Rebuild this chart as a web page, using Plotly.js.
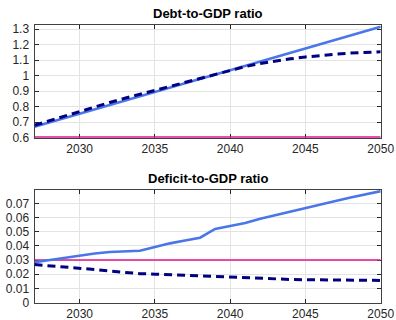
<!DOCTYPE html>
<html>
<head>
<meta charset="utf-8">
<script src="https://cdn.plot.ly/plotly-3.0.1.min.js"></script>
<style>
  html, body { margin: 0; padding: 0; background: #ffffff; }
  #chart { width: 396px; height: 320px; }
</style>
</head>
<body>
<div id="chart"></div>
<script>
// Projection years
const years = [2027, 2028, 2029, 2030, 2031, 2032, 2033, 2034, 2035, 2036, 2037, 2038,
               2039, 2040, 2041, 2042, 2043, 2044, 2045, 2046, 2047, 2048, 2049, 2050];

// Debt-to-GDP ratio: baseline (solid) and alternative path (dashed)
const debtBaseline = [0.670, 0.698, 0.726, 0.754, 0.782, 0.810, 0.838, 0.866, 0.894, 0.922,
                      0.950, 0.978, 1.006, 1.034, 1.062, 1.090, 1.118, 1.146, 1.174, 1.202,
                      1.230, 1.258, 1.287, 1.315];
const debtAlt      = [0.680, 0.710, 0.740, 0.770, 0.799, 0.827, 0.854, 0.880, 0.906, 0.932,
                      0.958, 0.984, 1.010, 1.035, 1.058, 1.078, 1.094, 1.108, 1.120, 1.130,
                      1.138, 1.145, 1.150, 1.153];
const debtLimit = 0.6;

// Deficit-to-GDP ratio: baseline (solid) and alternative path (dashed)
const deficitBaseline = [0.0285, 0.0300, 0.0318, 0.0335, 0.0346, 0.0357, 0.0362, 0.0366,
                         0.0392, 0.0418, 0.0438, 0.0458, 0.0520, 0.0540, 0.0562, 0.0592,
                         0.0618, 0.0643, 0.0668, 0.0692, 0.0718, 0.0742, 0.0765, 0.0787];
const deficitAlt      = [0.0268, 0.0260, 0.0252, 0.0245, 0.0233, 0.0222, 0.0212, 0.0204,
                         0.0200, 0.0196, 0.0190, 0.0184, 0.0179, 0.0175, 0.0171, 0.0168,
                         0.0165, 0.0163, 0.0161, 0.0159, 0.0158, 0.0157, 0.0156, 0.0156];
const deficitLimit = 0.03;

const xTicks = [2030, 2035, 2040, 2045, 2050];

const titles = ['Debt-to-GDP ratio', 'Deficit-to-GDP ratio'];

const BLUE = '#4a76e8';
const NAVY = '#000080';
const MAGENTA = '#e0158c';
const FONT = 'Liberation Sans, Arial, Helvetica, sans-serif';

function flat(v) { return years.map(() => v); }

const traces = [
  { x: years, y: flat(debtLimit), xaxis: 'x', yaxis: 'y', mode: 'lines',
    line: { color: MAGENTA, width: 3 } },
  { x: years, y: debtBaseline, xaxis: 'x', yaxis: 'y', mode: 'lines',
    line: { color: BLUE, width: 2.6 } },
  { x: years, y: debtAlt, xaxis: 'x', yaxis: 'y', mode: 'lines',
    line: { color: NAVY, width: 3, dash: '8px,5px' } },

  { x: years, y: flat(deficitLimit), xaxis: 'x2', yaxis: 'y2', mode: 'lines',
    line: { color: MAGENTA, width: 1.4 } },
  { x: years, y: deficitBaseline, xaxis: 'x2', yaxis: 'y2', mode: 'lines',
    line: { color: BLUE, width: 2.6 } },
  { x: years, y: deficitAlt, xaxis: 'x2', yaxis: 'y2', mode: 'lines',
    line: { color: NAVY, width: 3, dash: '8px,5px' } }
];

const W = 396, H = 320;
const xDom = [34.5 / W, 380.7 / W];

function xAxis(anchor) {
  return {
    anchor: anchor, domain: xDom, range: [2027, 2050],
    tickvals: xTicks, ticks: 'inside', ticklen: 4, tickcolor: '#262626',
    showgrid: true, gridcolor: '#e3e3e3', gridwidth: 1,
    showline: true, linecolor: '#404040', linewidth: 1, mirror: 'ticks',
    zeroline: false, layer: 'below traces', ticklabelstandoff: 0,
    tickfont: { family: FONT, size: 12, color: '#262626' }
  };
}
function yAxis(anchor, dom, range, dtick) {
  return {
    anchor: anchor, domain: dom, range: range, dtick: dtick, tick0: 0,
    ticks: 'inside', ticklen: 4, tickcolor: '#262626',
    showgrid: true, gridcolor: '#e3e3e3', gridwidth: 1,
    showline: true, linecolor: '#404040', linewidth: 1, mirror: 'ticks',
    zeroline: false, layer: 'below traces', ticklabelstandoff: 2,
    tickfont: { family: FONT, size: 12, color: '#262626' }
  };
}

const layout = {
  width: W, height: H,
  margin: { l: 0, r: 0, t: 0, b: 0 },
  paper_bgcolor: '#ffffff', plot_bgcolor: '#ffffff',
  showlegend: false,
  xaxis: xAxis('y'),
  yaxis: yAxis('x', [(H - 137.7) / H, (H - 25) / H], [0.6, 1.326], 0.1),
  xaxis2: xAxis('y2'),
  yaxis2: yAxis('x2', [(H - 302.5) / H, (H - 190) / H], [0, 0.0795], 0.01),
  annotations: [
    { text: '<b>' + titles[0] + '</b>', xref: 'paper', yref: 'paper',
      x: (xDom[0] + xDom[1]) / 2, y: (H - 13.5) / H, xanchor: 'center', yanchor: 'middle',
      showarrow: false, font: { family: FONT, size: 13, color: '#000000' } },
    { text: '<b>' + titles[1] + '</b>', xref: 'paper', yref: 'paper',
      x: (xDom[0] + xDom[1]) / 2, y: (H - 178) / H, xanchor: 'center', yanchor: 'middle',
      showarrow: false, font: { family: FONT, size: 13, color: '#000000' } }
  ]
};

Plotly.newPlot('chart', traces, layout, { staticPlot: true, displayModeBar: false });
</script>
</body>
</html>
